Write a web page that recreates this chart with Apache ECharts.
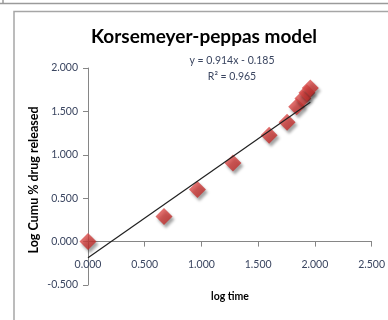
<!DOCTYPE html>
<html>
<head>
<meta charset="utf-8">
<script src="https://cdn.jsdelivr.net/npm/echarts@6/dist/echarts.min.js"></script>
<style>
html,body{margin:0;padding:0;background:#fff;}
#c{width:388px;height:320px;}
</style>
</head>
<body>
<div id="c"></div>
<script>
var title = 'Korsemeyer-peppas model';
var xName = 'log time';
var yName = 'Log Cumu % drug released';
var logTime = [0.000, 0.670, 0.965, 1.278, 1.597, 1.755, 1.840, 1.895, 1.930, 1.960];
var logCumu = [0.000, 0.290, 0.600, 0.905, 1.225, 1.375, 1.555, 1.650, 1.715, 1.770];
var trendSlope = 0.914;
var trendIntercept = -0.185;
var trendR2 = 0.965;
var xTicks = [0, 2.5, 0.5];
var yTicks = [-0.5, 2, 0.5];

var pts = logTime.map(function (x, i) { return [x, logCumu[i]]; });
var xMin = Math.min.apply(null, logTime), xMax = Math.max.apply(null, logTime);
var trend = [[xMin, trendSlope * xMin + trendIntercept], [xMax, trendSlope * xMax + trendIntercept]];
var eqText = 'y = ' + trendSlope.toFixed(3) + 'x - ' + Math.abs(trendIntercept).toFixed(3);
var r2Text = 'R² = ' + trendR2.toFixed(3);

var gridTop = 68, gridBottom = 35, H = 320;
var plotH = H - gridTop - gridBottom;
var zeroOffset = -plotH * (0 - yTicks[0]) / (yTicks[1] - yTicks[0]);

var font = 'Lato, "Liberation Sans", sans-serif';
var labelColor = '#3a4560';
var chart = echarts.init(document.getElementById('c'), null, {renderer: 'canvas'});
chart.setOption({
  animation: false,
  grid: {left: 88, right: 15, top: gridTop, bottom: gridBottom, containLabel: false},
  xAxis: {
    type: 'value', min: xTicks[0], max: xTicks[1], interval: xTicks[2],
    position: 'bottom', offset: zeroOffset,
    axisLine: {onZero: false, lineStyle: {color: '#868686', width: 1}},
    axisTick: {show: true, inside: false, length: 5, lineStyle: {color: '#868686'}},
    axisLabel: {margin: 18, color: labelColor, fontSize: 10.5, fontFamily: font,
      formatter: function (v) { return v.toFixed(3); }},
    splitLine: {show: false}
  },
  yAxis: {
    type: 'value', min: yTicks[0], max: yTicks[1], interval: yTicks[2],
    axisLine: {show: true, lineStyle: {color: '#868686', width: 1}},
    axisTick: {show: true, inside: false, length: 5, lineStyle: {color: '#868686'}},
    axisLabel: {margin: 10, color: labelColor, fontSize: 10.5, fontFamily: font,
      formatter: function (v) { return v.toFixed(3); }},
    splitLine: {show: false}
  },
  series: [
    {
      type: 'line', data: trend, symbol: 'none', z: 3,
      lineStyle: {color: '#202020', width: 1.2}
    },
    {
      type: 'scatter', data: pts, symbol: 'diamond', symbolSize: 17, z: 2,
      itemStyle: {
        color: new echarts.graphic.LinearGradient(0, 0, 1, 1, [
          {offset: 0, color: '#e45a58'},
          {offset: 1, color: '#b8201e'}
        ]),
        shadowColor: 'rgba(0,0,0,0.45)', shadowBlur: 3, shadowOffsetX: 2, shadowOffsetY: 3
      }
    }
  ],
  graphic: [
    {type: 'line', shape: {x1: 0, y1: 3.5, x2: 388, y2: 3.5}, style: {stroke: '#9a9a9a', lineWidth: 1.5}},
    {type: 'line', shape: {x1: 3, y1: 0, x2: 3, y2: 3.5}, style: {stroke: '#9a9a9a', lineWidth: 1.5}},
    {type: 'rect', shape: {x: 14, y: 11.5, width: 400, height: 330}, style: {fill: 'none', stroke: '#a6a6a6', lineWidth: 1.5}},
    {type: 'text', x: 204, y: 37, style: {text: title, font: 'bold 19px ' + font, fill: '#000', textAlign: 'center', textVerticalAlign: 'middle'}},
    {type: 'text', x: 232, y: 61, style: {text: eqText, font: '10.5px ' + font, fill: labelColor, textAlign: 'center', textVerticalAlign: 'middle'}},
    {type: 'text', x: 232, y: 77, style: {text: r2Text, font: '10.5px ' + font, fill: labelColor, textAlign: 'center', textVerticalAlign: 'middle'}},
    {type: 'text', x: 230, y: 297, style: {text: xName, font: 'bold 10.5px ' + font, fill: '#000', textAlign: 'center', textVerticalAlign: 'middle'}},
    {type: 'text', x: 34, y: 180, rotation: Math.PI / 2, style: {text: yName, font: 'bold 12.5px ' + font, fill: '#000', textAlign: 'center', textVerticalAlign: 'middle'}}
  ]
});
</script>
</body>
</html>
